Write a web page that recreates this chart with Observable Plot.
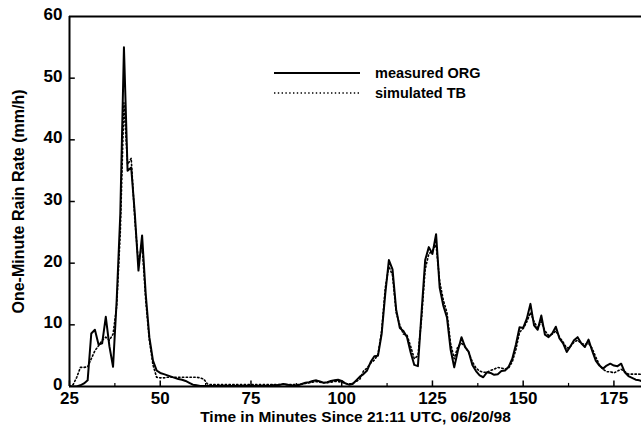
<!DOCTYPE html>
<html>
<head>
<meta charset="utf-8">
<script src="https://cdn.jsdelivr.net/npm/d3@7"></script>
<script src="https://cdn.jsdelivr.net/npm/@observablehq/plot@0.6"></script>
<style>
  html, body { margin: 0; padding: 0; background: #fff; }
  #chart { width: 641px; height: 431px; }
</style>
</head>
<body>
<div id="chart"></div>
<script>
const startMinute = 25;
const measuredORG = [
  0, 0, 0, 0.2, 0.5, 1.0, 8.6, 9.2, 6.8, 7.0,
  11.3, 6.5, 3.2, 14, 28, 55, 35, 35.5, 28, 18.8,
  24.5, 15, 8, 4.2, 2.6, 2.2, 2.0, 1.8, 1.6, 1.4,
  1.2, 1.1, 0.9, 0.6, 0.3, 0.2, 0.1, 0.1, 0.1, 0.1,
  0.1, 0.1, 0.1, 0.1, 0.1, 0.1, 0.1, 0.1, 0.1, 0.1,
  0.1, 0.1, 0.1, 0.1, 0.1, 0.1, 0.2, 0.2, 0.3, 0.4,
  0.3, 0.2, 0.1, 0.2, 0.4, 0.6, 0.7, 0.9, 1.0, 0.8,
  0.6, 0.7, 0.9, 1.0, 1.1, 0.9, 0.5, 0.3, 0.4, 1.0,
  1.6, 2.0, 2.6, 4.0, 4.9, 5.0, 8.5, 15, 20.5, 19,
  12.5, 9.5, 9.0, 8.0, 5.5, 3.5, 3.3, 12, 20.5, 22.6,
  21.5, 24.7, 16, 13.1, 11.2, 6, 3.1, 5.8, 8.0, 6.4,
  5.6, 3.5, 2.5, 1.8, 1.5, 2.3, 2.2, 1.9, 2.0, 2.5,
  2.6, 3.2, 4.5, 6.8, 9.6, 9.5, 11, 13.4, 9.9, 9.2,
  11.5, 8.4, 8.0, 8.6, 9.7, 7.8, 7.0, 5.6, 6.5, 7.5,
  8.0, 7.0, 6.4, 7.6, 5.8, 4.2, 3.4, 2.9, 3.4, 3.7,
  3.4, 3.3, 3.7, 2.3, 1.7, 1.4, 1.1, 1.0, 0.8
];
const simulatedTB = [
  0, 0.3, 1.5, 3.1, 3.1, 3.2, 4.5, 5.8, 6.6, 7.5,
  8.0, 7.5, 8.5, 13, 25, 46, 36, 37, 27, 20,
  23, 14, 7.5, 3.5, 1.5, 1.4, 1.4, 1.5, 1.5, 1.5,
  1.5, 1.5, 1.5, 1.5, 1.5, 1.5, 1.4, 1.2, 0.4, 0.3,
  0.3, 0.3, 0.3, 0.3, 0.3, 0.3, 0.3, 0.3, 0.3, 0.3,
  0.3, 0.3, 0.3, 0.3, 0.3, 0.3, 0.3, 0.3, 0.3, 0.4,
  0.3, 0.3, 0.3, 0.3, 0.4, 0.5, 0.6, 0.7, 0.8, 0.7,
  0.6, 0.6, 0.7, 0.8, 0.8, 0.7, 0.5, 0.4, 0.5, 0.8,
  1.2, 2.5, 3.0, 3.8, 4.3, 5.2, 9, 16, 19.5, 18,
  12, 10, 8.5, 8.3, 6.5, 4.5, 5, 11, 19, 21.5,
  22, 23, 17, 14, 12, 7, 4.5, 6.5, 7.0, 6.5,
  5.5, 4, 3, 2.5, 2.3, 2.3, 2.6, 2.8, 3.1, 3.0,
  2.8, 3.0, 4, 6, 8.8, 9.4, 10.5, 12, 10.5, 9.5,
  10.5, 9, 8.3, 8.5, 9, 8, 7.2, 6.2, 6.5, 7.2,
  7.5, 7.0, 6.8, 7.0, 6.2, 4.8, 3.5, 2.8, 2.4, 2.4,
  2.2, 2.5, 2.8, 2.4, 2.0, 2.0, 2.0, 2.0, 1.9
];
const xTicks = [25, 50, 75, 100, 125, 150, 175];
const xMinorTicks = [37.5, 62.5, 87.5, 112.5, 137.5, 162.5];
const yTicks = [0, 10, 20, 30, 40, 50, 60];
const xLabel = "Time in Minutes Since 21:11 UTC, 06/20/98";
const yLabel = "One-Minute Rain Rate (mm/h)";
const seriesNames = ["measured ORG", "simulated TB"];

const meas = measuredORG.map((v, i) => ({t: startMinute + i, v}));
const sim = simulatedTB.map((v, i) => ({t: startMinute + i, v}));

const font = "'Liberation Sans', Arial, Helvetica, sans-serif";

const chart = Plot.plot({
  width: 641,
  height: 431,
  marginLeft: 69,
  marginRight: 0,
  marginTop: 16,
  marginBottom: 45,
  x: {domain: [25, 182.6]},
  y: {domain: [0, 60]},
  style: {fontFamily: font, fontWeight: "bold", fontSize: "17px", color: "black", background: "white"},
  marks: [
    Plot.line(sim, {x: "t", y: "v", stroke: "black", strokeWidth: 1.6, strokeDasharray: "1.4 2.4", clip: true}),
    Plot.line(meas, {x: "t", y: "v", stroke: "black", strokeWidth: 2, clip: true}),
    Plot.ruleY([0, 60], {stroke: "black", strokeWidth: 2}),
    Plot.ruleX([25], {stroke: "black", strokeWidth: 2}),
    Plot.ruleX(xTicks, {x: d => d, y1: 0, y2: 0.9, stroke: "black", strokeWidth: 1.5}),
    Plot.ruleX(xMinorTicks, {x: d => d, y1: 0, y2: 0.5, stroke: "black", strokeWidth: 1.2}),
    Plot.ruleY(yTicks.slice(1, -1), {y: d => d, x1: 25, x2: 26.6, stroke: "black", strokeWidth: 1.5}),
    Plot.axisX({ticks: xTicks, tickSize: 0, tickPadding: 5, label: null, fontSize: 17, fontWeight: "bold"}),
    Plot.axisY({ticks: yTicks, tickSize: 0, tickPadding: 7, dy: -2, label: null, fontSize: 17, fontWeight: "bold"}),
    Plot.text([xLabel], {frameAnchor: "bottom", dy: 31, fontSize: 15.5, fontWeight: "bold", lineAnchor: "middle", textAnchor: "middle"}),
    Plot.text([yLabel], {frameAnchor: "left", dx: -51, rotate: -90, fontSize: 16, fontWeight: "bold", lineAnchor: "middle", textAnchor: "middle"})
  ]
});

// Legend
const svg = d3.select(chart);
const lg = svg.append("g").attr("font-family", font).attr("font-weight", "bold").attr("font-size", 14.5).attr("text-anchor", "start");
lg.append("line").attr("x1", 274).attr("x2", 360).attr("y1", 73).attr("y2", 73)
  .attr("stroke", "black").attr("stroke-width", 2);
lg.append("line").attr("x1", 274).attr("x2", 360).attr("y1", 93).attr("y2", 93)
  .attr("stroke", "black").attr("stroke-width", 1.6).attr("stroke-dasharray", "1.4 2.4");
lg.append("text").attr("x", 375).attr("y", 73).attr("dy", "0.35em").text(seriesNames[0]);
lg.append("text").attr("x", 375).attr("y", 93).attr("dy", "0.35em").text(seriesNames[1]);

document.getElementById("chart").appendChild(chart);
</script>
</body>
</html>
